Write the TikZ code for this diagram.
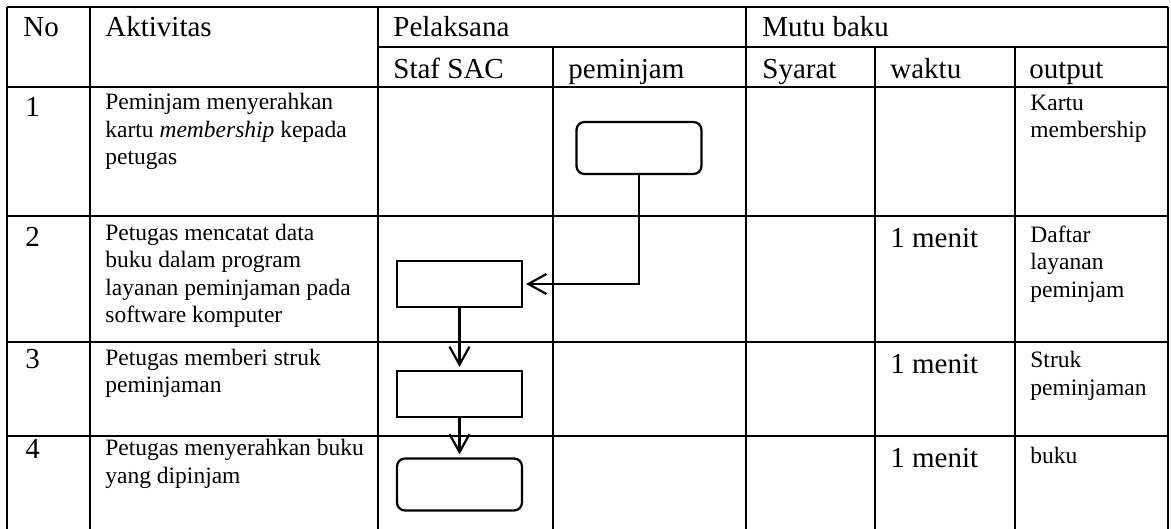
\documentclass[tikz,border=0pt]{standalone}
\usepackage{fontspec}
\setmainfont{Liberation Serif}
\usetikzlibrary{arrows.meta}

\begin{document}
\begin{tikzpicture}[x=0.5pt,y=-0.5pt,
    garis/.style={line width=1.3pt},
    judul/.style={anchor=base west,inner sep=0pt,font=\fontsize{14.5}{17}\selectfont},
    isi/.style={anchor=base west,inner sep=0pt,align=left,font=\fontsize{11.75}{13.75}\selectfont},
    proses/.style={draw,line width=1.1pt,minimum width=62.5pt,minimum height=23pt,inner sep=0pt},
    ujung/.style={proses,rounded corners=4pt,minimum height=26pt},
    panah/.style={line width=1.1pt,-{Straight Barb[length=9pt,width=10pt]},shorten >=1.5pt}]
    \useasboundingbox (0,0) rectangle (1171,529);
    % garis tabel
    \draw[garis] (7,7) -- (1168,7);
    \draw[garis] (378,47) -- (1168,47);
    \foreach \y in {87,216,342,436}
        \draw[garis] (7,\y) -- (1168,\y);
    \foreach \x in {7,90,378,746,1168}
        \draw[garis] (\x,7) -- (\x,532);
    \foreach \x in {553,875,1015}
        \draw[garis] (\x,47) -- (\x,532);
    % kepala tabel
    \node[judul] (hNo) at (23,37) {No};
    \node[judul] (hAkt) at (105,37) {Aktivitas};
    \node[judul] (hPel) at (393,37) {Pelaksana};
    \node[judul] (hMutu) at (762,37) {Mutu baku};
    \node[judul] (hStaf) at (393,79) {Staf SAC};
    \node[judul] (hPem) at (568,79) {peminjam};
    \node[judul] (hSya) at (762,79) {Syarat};
    \node[judul] (hWak) at (890,79) {waktu};
    \node[judul] (hOut) at (1029,79) {output};
    % nomor
    \node[judul] (no1) at (25,117) {1};
    \node[judul] (no2) at (25,247) {2};
    \node[judul] (no3) at (25,368) {3};
    \node[judul] (no4) at (25,458) {4};
    % aktivitas (titik = baris terakhir)
    \node[isi] (akt1) at (105,165) {Peminjam menyerahkan\\kartu \textit{membership} kepada\\petugas};
    \node[isi] (akt2) at (105,322.5) {Petugas mencatat data\\buku dalam program\\layanan peminjaman pada\\software komputer};
    \node[isi] (akt3) at (105,392.5) {Petugas memberi struk\\peminjaman};
    \node[isi] (akt4) at (105,483) {Petugas menyerahkan buku\\yang dipinjam};
    % waktu
    \node[judul] (wak2) at (890,248) {1 menit};
    \node[judul] (wak3) at (890,373) {1 menit};
    \node[judul] (wak4) at (890,467) {1 menit};
    % output
    \node[isi] (out1) at (1030,138) {Kartu\\membership};
    \node[isi] (out2) at (1030,297) {Daftar\\layanan\\peminjam};
    \node[isi] (out3) at (1030,395) {Struk\\peminjaman};
    \node[isi] (out4) at (1030,463) {buku};
    % bagan alir
    \node[ujung] (mulai) at (639,148) {};
    \node[proses] (catat) at (459.5,284) {};
    \node[proses] (struk) at (459.5,394) {};
    \node[ujung] (selesai) at (459.5,484.5) {};
    \draw[panah] (mulai.south) |- (catat.east);
    \draw[panah] (catat) -- (struk);
    \draw[panah] (struk) -- (selesai);
\end{tikzpicture}
\end{document}
